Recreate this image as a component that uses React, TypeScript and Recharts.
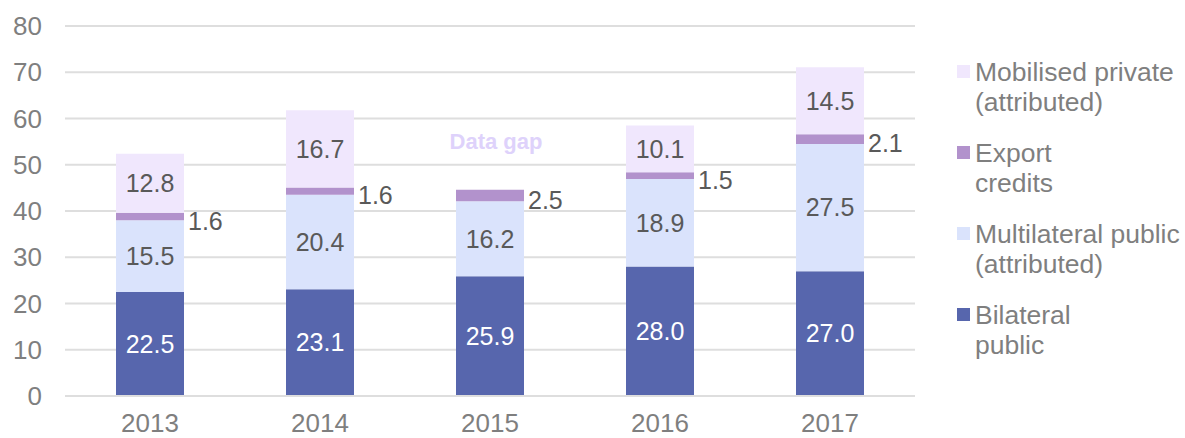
import React from "react";
import { BarChart, Bar, XAxis, YAxis, CartesianGrid, LabelList, ReferenceDot } from "recharts";

const years = ["2013", "2014", "2015", "2016", "2017"];
const bilateral = [22.5, 23.1, 25.9, 28.0, 27.0];
const multilateral = [15.5, 20.4, 16.2, 18.9, 27.5];
const exportCredits = [1.6, 1.6, 2.5, 1.5, 2.1];
const mobilised: (number | null)[] = [12.8, 16.7, null, 10.1, 14.5];
const yTicks = [0, 10, 20, 30, 40, 50, 60, 70, 80];
const gapYear = "2015";
const gapText = "Data gap";

const series = [
  { key: "mobilised", name: ["Mobilised private", "(attributed)"], color: "#f0e7fd" },
  { key: "exportCredits", name: ["Export", "credits"], color: "#b292cc" },
  { key: "multilateral", name: ["Multilateral public", "(attributed)"], color: "#dae3fc" },
  { key: "bilateral", name: ["Bilateral", "public"], color: "#5766ad" },
];

const data = years.map((y, i) => ({
  year: y,
  bilateral: bilateral[i],
  multilateral: multilateral[i],
  exportCredits: exportCredits[i],
  mobilised: mobilised[i],
}));

const FONT = "'Liberation Sans', Arial, sans-serif";
const fmt = (v: any) => (v == null ? "" : Number(v).toFixed(1));

const ExportLabel = (props: any) => {
  const { x, y, width, height, value } = props;
  if (value == null) return null;
  return (
    <text
      x={Number(x) + Number(width) + 4}
      y={Number(y) + Number(height) / 2 + 4}
      fill="#595959"
      fontSize={25}
      fontFamily={FONT}
      dominantBaseline="central"
      textAnchor="start"
    >
      {fmt(value)}
    </text>
  );
};

const GapLabel = (props: any) => {
  const { viewBox } = props;
  const cx = viewBox.x + (viewBox.width || 0) / 2;
  const cy = viewBox.y + (viewBox.height || 0) / 2;
  return (
    <text x={cx + 6} y={cy} fill="#ded2fb" fontSize={22} fontWeight="bold" fontFamily={FONT} textAnchor="middle" dominantBaseline="central">
      {gapText}
    </text>
  );
};

export default function App() {
  return (
    <div style={{ position: "absolute", left: 0, top: 0, width: 1185, height: 438, background: "#fff", fontFamily: FONT }}>
      <BarChart width={1185} height={438} data={data} margin={{ top: 26, right: 270, bottom: 0, left: 0 }} barCategoryGap="30%">
        <CartesianGrid vertical={false} stroke="#dedede" strokeWidth={2} />
        <XAxis
          dataKey="year"
          height={42}
          tickLine={false}
          axisLine={{ stroke: "#dedede", strokeWidth: 2 }}
          tickMargin={12}
          tick={{ fontSize: 26, fill: "#7f7f7f", fontFamily: FONT }}
        />
        <YAxis
          width={65}
          domain={[0, 80]}
          ticks={yTicks}
          tickLine={false}
          axisLine={false}
          tickMargin={17}
          tick={{ fontSize: 26, fill: "#7f7f7f", fontFamily: FONT }}
        />
        <Bar dataKey="bilateral" stackId="a" fill="#5766ad" isAnimationActive={false}>
          <LabelList dataKey="bilateral" position="center" formatter={fmt} fill="#ffffff" fontSize={25} fontFamily={FONT} />
        </Bar>
        <Bar dataKey="multilateral" stackId="a" fill="#dae3fc" isAnimationActive={false}>
          <LabelList dataKey="multilateral" position="center" formatter={fmt} fill="#595959" fontSize={25} fontFamily={FONT} />
        </Bar>
        <Bar dataKey="exportCredits" stackId="a" fill="#b292cc" isAnimationActive={false}>
          <LabelList dataKey="exportCredits" content={ExportLabel} />
        </Bar>
        <Bar dataKey="mobilised" stackId="a" fill="#f0e7fd" isAnimationActive={false}>
          <LabelList dataKey="mobilised" position="center" formatter={fmt} fill="#595959" fontSize={25} fontFamily={FONT} />
        </Bar>
        <ReferenceDot x={gapYear} y={55} r={0} fill="none" stroke="none" label={<GapLabel />} />
      </BarChart>
      {series.map((s, i) => (
        <div key={s.key} style={{ position: "absolute", left: 957, top: 57 + i * 81, width: 228 }}>
          <div style={{ position: "absolute", left: 0, top: 8, width: 13, height: 13, background: s.color }} />
          <div style={{ position: "absolute", left: 18, top: 0, fontSize: 26.5, lineHeight: "30px", color: "#7f7f7f", whiteSpace: "nowrap" }}>
            {s.name[0]}
            <br />
            {s.name[1]}
          </div>
        </div>
      ))}
    </div>
  );
}
